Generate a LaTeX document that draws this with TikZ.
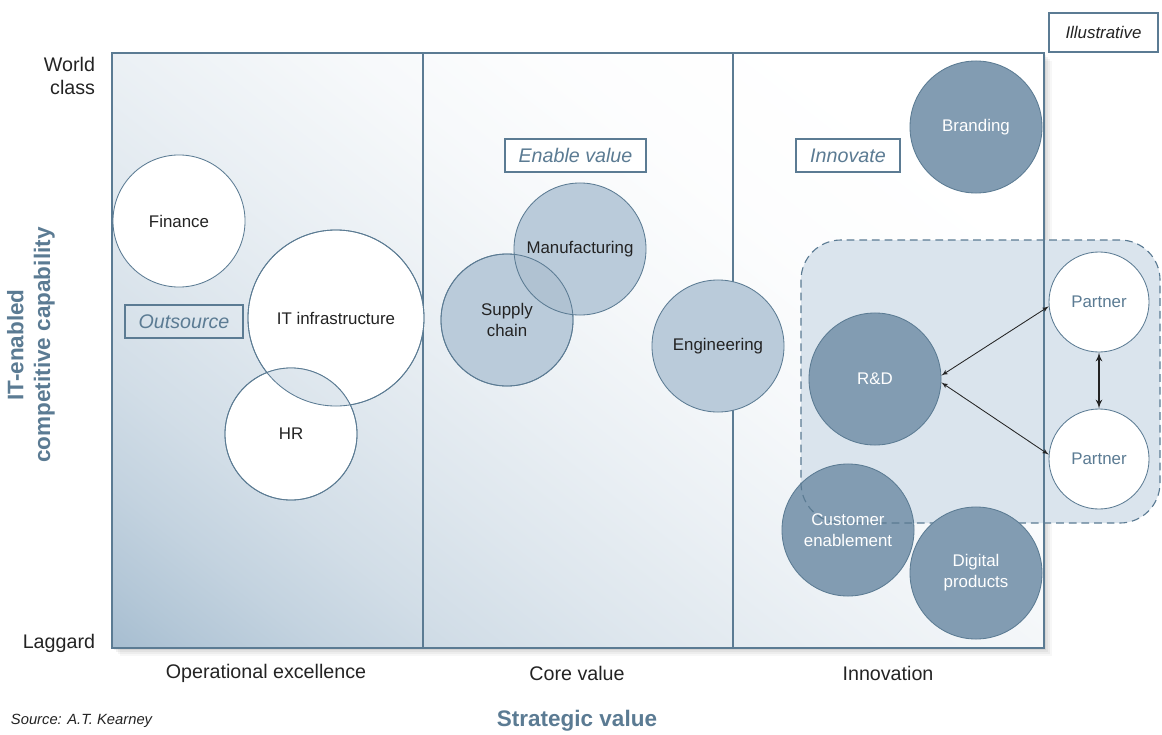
\documentclass[tikz,border=0pt]{standalone}
\usepackage{fontspec}
\setmainfont{Liberation Sans}
\usepackage{tikz}
\usetikzlibrary{arrows,calc,positioning,shapes}
\definecolor{my_blue}{RGB}{91, 123, 147}
\definecolor{my_dark}{RGB}{130, 156, 178}
\definecolor{my_light}{RGB}{186, 203, 218}
\definecolor{my_zone}{RGB}{218, 228, 237}
\definecolor{my_shade}{RGB}{166, 189, 208}
\definecolor{my_text}{RGB}{35, 35, 35}
\pgfdeclareverticalshading{frame_shade}{100bp}{color(0bp)=(my_shade); color(14.9bp)=(my_shade);
  color(18.6bp)=(white!15!my_shade); color(23.8bp)=(white!33!my_shade); color(29.7bp)=(white!49!my_shade);
  color(37.1bp)=(white!63!my_shade); color(46bp)=(white!77!my_shade); color(55.6bp)=(white!90!my_shade);
  color(64bp)=(white!97!my_shade); color(75bp)=(white); color(100bp)=(white)}
\tikzset{
  bubble/.style = {circle, draw=my_blue, line width=0.6pt, align=center, inner sep=0pt,
  text centered, font=\fontsize{12}{15}\selectfont},
  bub_m/.style = {bubble, minimum size=3.3cm},
  bub_l/.style = {bubble, minimum size=4.4cm},
  bub_s/.style = {bubble, minimum size=2.5cm},
  ring/.style = {draw=my_blue, line width=0.6pt},
  frame_bg/.style = {shading=frame_shade, shading angle=-38},
  tag/.style = {draw=my_blue, line width=1.8pt, text=my_blue, inner sep=0pt,
  minimum height=0.825cm, font=\itshape\fontsize{14}{16}\selectfont},
  axis_lbl/.style = {text=my_text, font=\fontsize{14}{17}\selectfont}
}

\begin{document}
\begin{tikzpicture}[x=0.025cm, y=-0.025cm, >=latex',
        dark/.style={fill=my_dark, text=white},
        light/.style={fill=my_light, text=my_text},
        blank/.style={fill=white, text=my_text},
        partner/.style={fill=white, text=my_blue}]
    \useasboundingbox (0,0) rectangle (1162,735);
    % frame with its soft shadow
    \foreach \d/\o in {2/0.06,4/0.05,6/0.04,8/0.03}
        \fill[black, opacity=\o] (112+\d,53+\d) rectangle (1044+\d,648+\d);
    \shade[frame_bg] (112,53) rectangle (1044,648);
    \fill[my_zone, rounded corners=1cm] (801,240) rectangle (1160,523);
    \draw[my_blue, line width=1pt] (112,53) rectangle (1044,648);
    \draw[my_blue, line width=1pt] (423,53) -- (423,648);
    \draw[my_blue, line width=1pt] (733,53) -- (733,648);

    \node [bub_m, blank] (fin) at (179,221) {Finance};
    \node [bub_l, blank] (itinf) at (336,318) {IT infrastructure};
    \node [bub_m, blank] (hr) at (291,434) {HR};
    \begin{scope}
        \clip (itinf.center) circle [radius=2.2cm];
        \clip (hr.center) circle [radius=1.65cm];
        \shade[frame_bg] (112,53) rectangle (1044,648);
    \end{scope}
    \draw[ring] (itinf.center) circle [radius=2.2cm];
    \draw[ring] (hr.center) circle [radius=1.65cm];
    \node [bub_m, light] (supply) at (507,320) {Supply\\chain};
    \node [bub_m, light] (manuf) at (580,249) {Manufacturing};
    \begin{scope}
        \clip (supply.center) circle [radius=1.65cm];
        \fill[my_blue, opacity=0.1] (manuf.center) circle [radius=1.65cm];
    \end{scope}
    \draw[ring] (supply.center) circle [radius=1.65cm];
    \node [bub_m, light] (eng) at (718,346) {Engineering};
    \node [bub_m, dark] (brand) at (976,127) {Branding};
    \node [bub_m, dark] (rd) at (875,379) {R\&D};
    \node [bub_m, dark] (cust) at (848,530) {};
    \draw[my_blue, line width=0.8pt, dash pattern=on 5.5pt off 3.5pt, rounded corners=1cm]
        (801,240) rectangle (1160,523);
    \node [text=white, align=center, font=\fontsize{12}{15}\selectfont] (cust_lbl) at (cust) {Customer\\enablement};
    \node [bub_m, dark] (digital) at (976,573) {Digital\\products};
    \node [bub_s, partner] (partner_a) at (1099,302) {Partner};
    \node [bub_s, partner] (partner_b) at (1099,459) {Partner};

    \draw[<->, my_text, line width=0.6pt] (rd.3) -- (partner_a.185);
    \draw[<->, my_text, line width=0.6pt] (rd.-3) -- (partner_b.175);
    \draw[<->, my_text, line width=1.2pt] (partner_a.south) -- (partner_b.north);

    \node [tag, minimum width=2.95cm] (outsrc) at (184,321.5) {Outsource};
    \node [tag, fill=white, minimum width=3.525cm] (enable) at (575.5,155.5) {Enable value};
    \node [tag, fill=white, minimum width=2.6cm] (innov) at (848,155.5) {Innovate};
    \node [draw=my_blue, line width=0.8pt, fill=white, text=my_text, minimum width=2.725cm,
        minimum height=0.975cm, inner sep=0pt, font=\itshape\fontsize{12}{14}\selectfont]
        (illus) at (1103.5,32.5) {Illustrative};

    \node [axis_lbl, anchor=east, align=right] (top_lbl) at (100,76) {World\\class};
    \node [axis_lbl, anchor=east] (low_lbl) at (100,643) {Laggard};
    \node [axis_lbl] (col_a) at (266,673) {Operational excellence};
    \node [axis_lbl] (col_b) at (577,673) {Core value};
    \node [axis_lbl] (col_c) at (888,673) {Innovation};
    \node [text=my_blue, font=\bfseries\fontsize{16}{19}\selectfont] (x_lbl) at (577,721) {Strategic value};
    \node [text=my_blue, rotate=90, align=center, font=\bfseries\fontsize{16}{19}\selectfont]
        (y_lbl) at (31,345) {IT-enabled\\competitive capability};
    \node [anchor=west, text=my_text, font=\itshape\fontsize{10.5}{12}\selectfont] (src) at (6,721) {Source: A.T. Kearney};
\end{tikzpicture}
\end{document}
